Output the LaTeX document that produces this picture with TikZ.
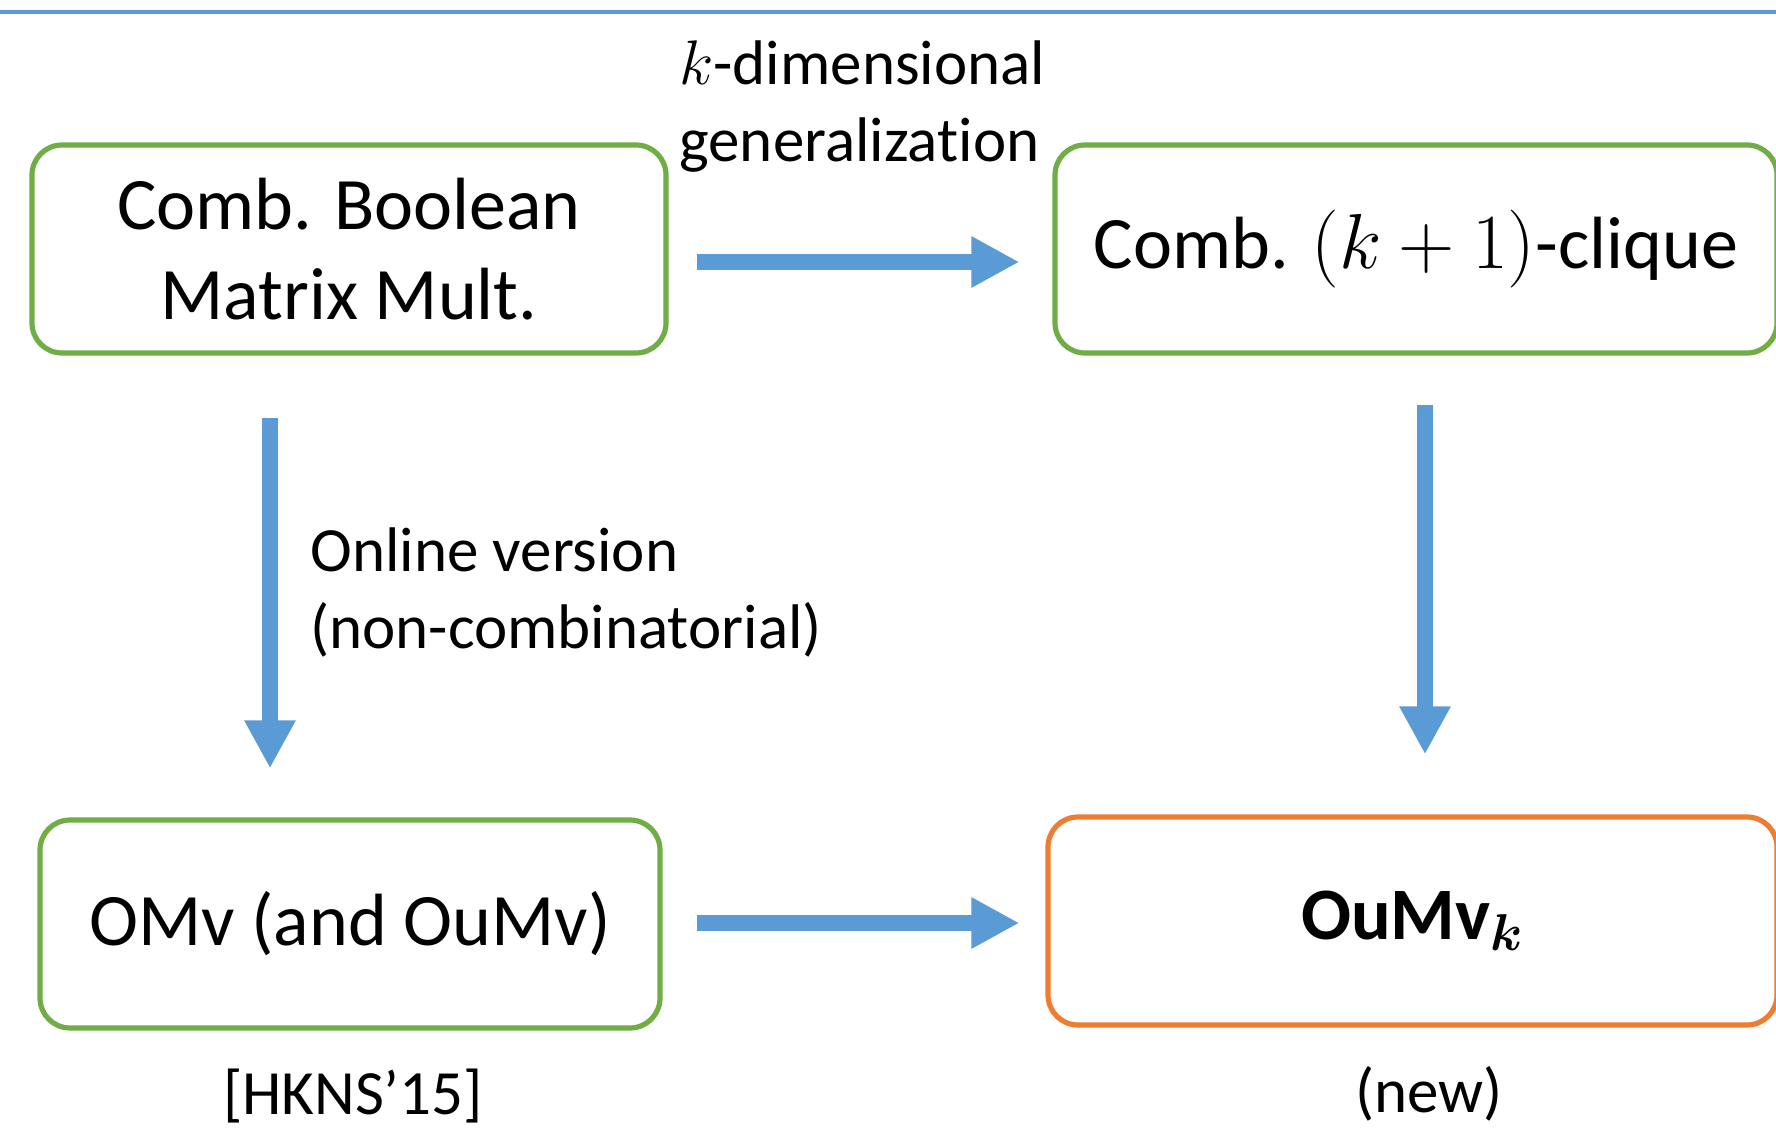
\RequirePackage{fix-cm}
\documentclass[tikz,border=0pt]{standalone}
\usepackage{amsmath}
\usepackage{fontspec}
\setmainfont[Ligatures=NoCommon]{Carlito}
\usetikzlibrary{arrows.meta,calc}

\definecolor{boxgreen}{HTML}{70AD47}
\definecolor{arrowblue}{HTML}{5B9BD5}
\definecolor{boxorange}{HTML}{ED7D31}

\newcommand{\boxfont}{\fontsize{37pt}{44.75pt}\selectfont}
\newcommand{\notefont}{\fontsize{31.5pt}{38.5pt}\selectfont}

\tikzset{
  probbox/.style={draw=boxgreen, line width=2.6pt, rounded corners=15pt,
    minimum height=104pt, align=center, inner sep=0pt, font=\boxfont},
  newbox/.style={probbox, draw=boxorange},
  note/.style={inner sep=0pt, font=\notefont},
  bigarrow/.style={draw=arrowblue, line width=8pt,
    -{Triangle[length=24pt, width=24pt]}},
  rule/.style={draw=arrowblue, line width=2.4pt}
}

\begin{document}
\begin{tikzpicture}[x=0.5pt, y=-0.5pt]
  \useasboundingbox (0,0) rectangle (1776,1133);

  % rule across the top
  \draw[rule] (0,12) -- (1776,12);

  % problems
  \node[probbox, minimum width=317pt] (bmm) at (349,249)
    {Comb. Boolean\\Matrix Mult.};
  \node[probbox, minimum width=361pt] (clique) at (1416,249)
    {Comb. {\fontsize{39pt}{44.75pt}\selectfont$(k+1)$}-clique};
  \node[probbox, minimum width=310pt] (omv) at (350,924)
    {OMv (and OuMv)};
  \node[newbox, minimum width=364.5pt] (oumvk) at (1412.5,921)
    {\textbf{OuM}$\mathbf{v}_{\boldsymbol{k}}$};

  % reductions
  \draw[bigarrow] ($(bmm.east)+(28,13)$) -- ($(bmm.east -| clique.west)+(-33,13)$);
  \draw[bigarrow] ($(omv.east)+(34,-1)$) -- ($(omv.east -| oumvk.west)+(-26,-1)$);
  \draw[bigarrow] ($(bmm.south)+(-79,62)$) -- ($(omv.north -| bmm.south)+(-79,-49)$);
  \draw[bigarrow] ($(clique.south)+(9,49)$) -- ($(oumvk.north -| clique.south)+(9,-60)$);

  % annotations
  \node[note, anchor=west, align=left] (gen) at (679,107)
    {$k$-dimensional\\generalization};
  \node[note, anchor=west, align=left] (online) at (310,592)
    {Online version\\(non-combinatorial)};
  \node[note] (ref) at (353,1096) {[HKNS’15]};
  \node[note] (new) at (1429,1094) {(new)};
\end{tikzpicture}
\end{document}
